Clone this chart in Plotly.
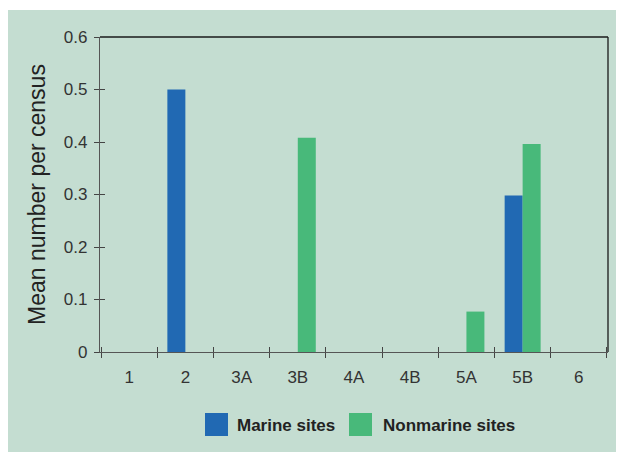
import plotly.graph_objects as go

# Data
categories = ["1", "2", "3A", "3B", "4A", "4B", "5A", "5B", "6"]
marine = [0, 0.5, 0, 0, 0, 0, 0, 0.298, 0]
nonmarine = [0, 0, 0, 0.408, 0, 0, 0.077, 0.396, 0]
y_ticks = [0, 0.1, 0.2, 0.3, 0.4, 0.5, 0.6]
y_ticktext = ["0", "0.1", "0.2", "0.3", "0.4", "0.5", "0.6"]

blue = "#2169b3"
green = "#48b97a"
panel = "#c4ddd1"
font_family = "Liberation Sans, Arial, sans-serif"

# the page adds an 8px body margin, so the figure is drawn a little smaller
FW, FH = 617, 444
OFF = 8

fig = go.Figure()
fig.add_trace(go.Bar(x=categories, y=marine, name="Marine sites",
                     marker=dict(color=blue, line=dict(width=0))))
fig.add_trace(go.Bar(x=categories, y=nonmarine, name="Nonmarine sites",
                     marker=dict(color=green, line=dict(width=0))))
# invisible trace that carries the inside tick marks (ticks cross the axes)
fig.add_trace(go.Scatter(x=categories, y=[0] * len(categories),
                         xaxis="x2", yaxis="y2", mode="markers",
                         marker=dict(opacity=0), hoverinfo="skip",
                         showlegend=False))

# pixel geometry of the plot area (reference page coordinates)
L, R, T, B = 100 - OFF, FW - (608 - OFF), 37 - OFF, FH - (352 - OFF)
W, H = FW - L - R, FH - T - B


def px(x):
    return (x - OFF - L) / W


def py(y):
    return (FH - B - (y - OFF)) / H


shapes = [
    # panel background
    dict(type="rect", xref="paper", yref="paper", layer="below",
         x0=px(0), x1=px(616), y0=py(10), y1=py(460),
         fillcolor=panel, line=dict(width=0)),
    # top and right frame lines
    dict(type="line", xref="paper", yref="paper", x0=0, x1=1, y0=1, y1=1,
         line=dict(color="#1a1a1a", width=1.3)),
    dict(type="line", xref="paper", yref="paper", x0=1, x1=1, y0=0, y1=1,
         line=dict(color="#1a1a1a", width=1.3)),
    # legend swatches
    dict(type="rect", xref="paper", yref="paper",
         x0=px(205), x1=px(228), y0=py(436), y1=py(413),
         fillcolor=blue, line=dict(width=0)),
    dict(type="rect", xref="paper", yref="paper",
         x0=px(349), x1=px(372), y0=py(436), y1=py(413),
         fillcolor=green, line=dict(width=0)),
]

annotations = [
    dict(text="<b>Marine sites</b>", xref="paper", yref="paper",
         x=px(235), y=py(425), xanchor="left", yanchor="middle",
         showarrow=False, font=dict(size=17, color="#222", family=font_family)),
    dict(text="<b>Nonmarine sites</b>", xref="paper", yref="paper",
         x=px(381), y=py(425), xanchor="left", yanchor="middle",
         showarrow=False, font=dict(size=17, color="#222", family=font_family)),
]

tick_style = dict(ticklen=5, tickcolor="#444", tickwidth=1.2)

fig.update_layout(
    width=FW, height=FH,
    margin=dict(l=L, r=R, t=T, b=B),
    paper_bgcolor="white",
    plot_bgcolor="rgba(0,0,0,0)",
    barmode="group",
    bargap=0.36,
    bargroupgap=0,
    showlegend=False,
    font=dict(family=font_family, color="#333", size=17),
    shapes=shapes,
    annotations=annotations,
    xaxis=dict(
        type="category",
        tickson="boundaries",
        ticks="outside", **tick_style,
        ticklabelstandoff=9,
        showline=True, linecolor="#555", linewidth=1.3,
        showgrid=False, zeroline=False,
        tickfont=dict(size=17, color="#333"),
    ),
    yaxis=dict(
        range=[0, 0.6],
        tickvals=y_ticks, ticktext=y_ticktext,
        ticks="outside", **tick_style,
        ticklabelstandoff=3,
        showline=True, linecolor="#555", linewidth=1.3,
        showgrid=False, zeroline=False,
        tickfont=dict(size=17, color="#333"),
        title=dict(text="Mean number per census", standoff=11,
                   font=dict(size=23, color="#222")),
    ),
    xaxis2=dict(
        type="category", overlaying="x", matches="x",
        tickson="boundaries", ticks="inside", **tick_style,
        showticklabels=False, showline=False, showgrid=False, zeroline=False,
    ),
    yaxis2=dict(
        overlaying="y", range=[0, 0.6], tickvals=y_ticks,
        ticks="inside", **tick_style,
        showticklabels=False, showline=False, showgrid=False, zeroline=False,
    ),
)

fig.write_html("out.html")
